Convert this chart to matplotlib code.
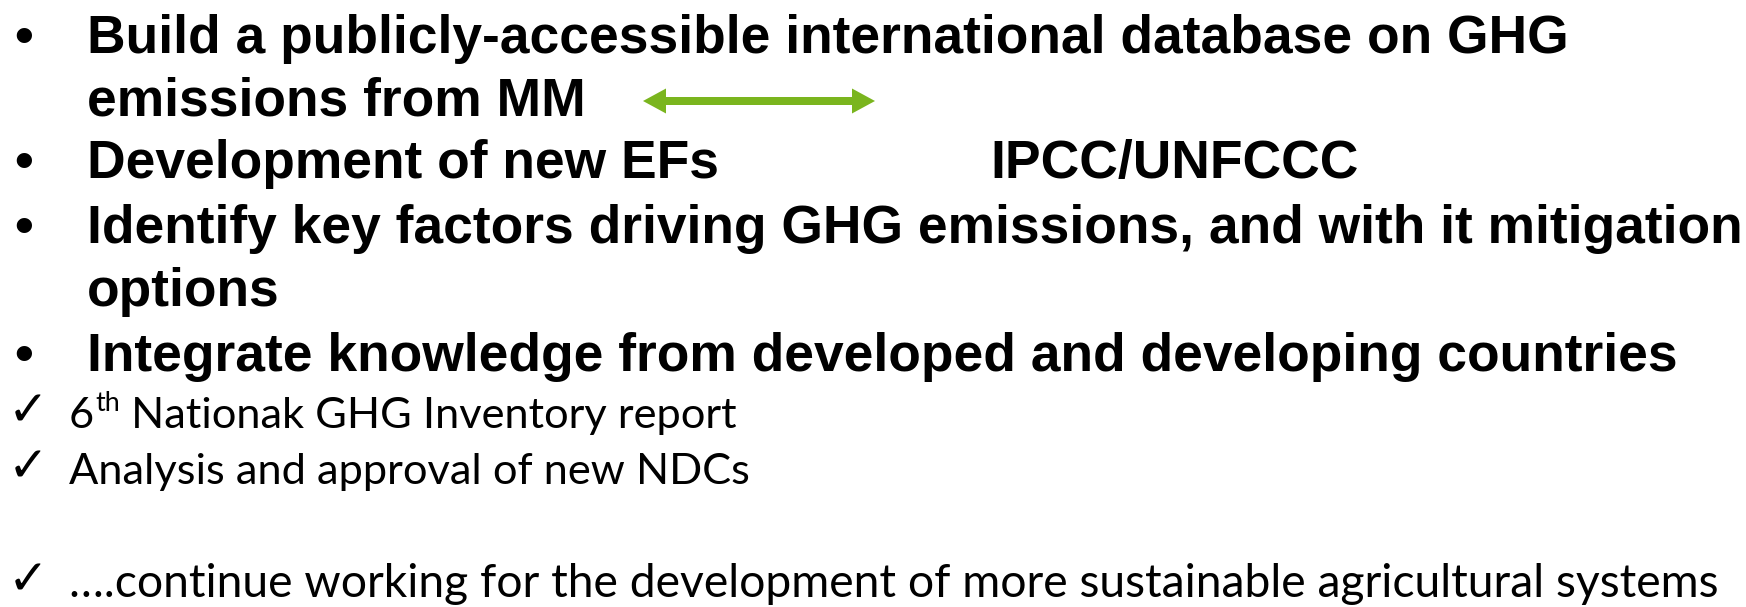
import matplotlib
matplotlib.use("Agg")
import matplotlib.pyplot as plt
from matplotlib.patches import FancyArrow

W, H = 1746, 607
bullet_lines = [
    "Build a publicly-accessible international database on GHG",
    "emissions from MM",
    "Development of new EFs",
    "Identify key factors driving GHG emissions, and with it mitigation",
    "options",
    "Integrate knowledge from developed and developing countries",
]
bullet_flags = [True, False, True, True, False, True]
bullet_baselines = [53, 116, 178, 243, 306, 371]
side_label = "IPCC/UNFCCC"
check_lines = [
    ("6", "th", " Nationak GHG Inventory report"),
    ("", "", "Analysis and approval of new NDCs"),
    ("", "", "\u2026.continue working for the development of more sustainable agricultural systems"),
]
check_baselines = [428, 484, 597]
check_right = [737, 749, 1720]

BOLD = "Liberation Sans"
REG = "Lato"
GREEN = "#7AB51E"

fig = plt.figure(figsize=(W / 100, H / 100), dpi=100)
ax = fig.add_axes([0, 0, 1, 1])
ax.set_xlim(0, W)
ax.set_ylim(H, 0)
ax.axis("off")
fig.canvas.draw()
r = fig.canvas.get_renderer()


def width(t):
    return t.get_window_extent(renderer=r).width


def fit_size(s, family, weight, target):
    t = ax.text(0, 0, s, fontsize=40, family=family, weight=weight)
    w = width(t)
    t.remove()
    return 40 * target / w


def draw_check_line(pre, sup, rest, x, yb, rs):
    arts = []
    x0 = x
    if pre:
        t = ax.text(x, yb, pre, fontsize=rs, family=REG, va="baseline", ha="left")
        arts.append(t)
        x += width(t)
        t2 = ax.text(x + 1, yb - rs * 0.55, sup, fontsize=rs * 0.62, family=REG,
                     va="baseline", ha="left")
        arts.append(t2)
        x += width(t2) + 1
    t3 = ax.text(x, yb, rest, fontsize=rs, family=REG, va="baseline", ha="left")
    arts.append(t3)
    x += width(t3)
    return arts, x - x0


bsize = fit_size(bullet_lines[3], BOLD, "bold", 1740 - 87)

x_text = 87
for s, flag, yb in zip(bullet_lines, bullet_flags, bullet_baselines):
    ax.text(x_text, yb, s, fontsize=bsize, family=BOLD, weight="bold",
            va="baseline", ha="left", color="black")
    if flag:
        ax.text(14, yb, "\u2022", fontsize=bsize, family=BOLD, weight="bold",
                va="baseline", ha="left", color="black")

ax.text(990, bullet_baselines[2], side_label, fontsize=bsize, family=BOLD,
        weight="bold", va="baseline", ha="left", color="black")

# double-headed green arrow
x0, x1, ya = 643, 875, 101
xm = (x0 + x1) / 2
for xs, xe in [(xm, x1), (xm, x0)]:
    ax.add_patch(FancyArrow(xs, ya, xe - xs, 0, width=8, head_width=25, head_length=23,
                            length_includes_head=True, color=GREEN, lw=0))

for (pre, sup, rest), yb, xr in zip(check_lines, check_baselines, check_right):
    arts, w = draw_check_line(pre, sup, rest, 69, yb, 40)
    for a in arts:
        a.remove()
    rs = 40 * (xr - 69) / w
    draw_check_line(pre, sup, rest, 69, yb, rs)
    ax.text(8, yb - 3, "\u2713", fontsize=35, family="DejaVu Sans",
            weight="bold", va="baseline", ha="left", color="black")

fig.savefig("out.png", dpi=100, facecolor="white")
